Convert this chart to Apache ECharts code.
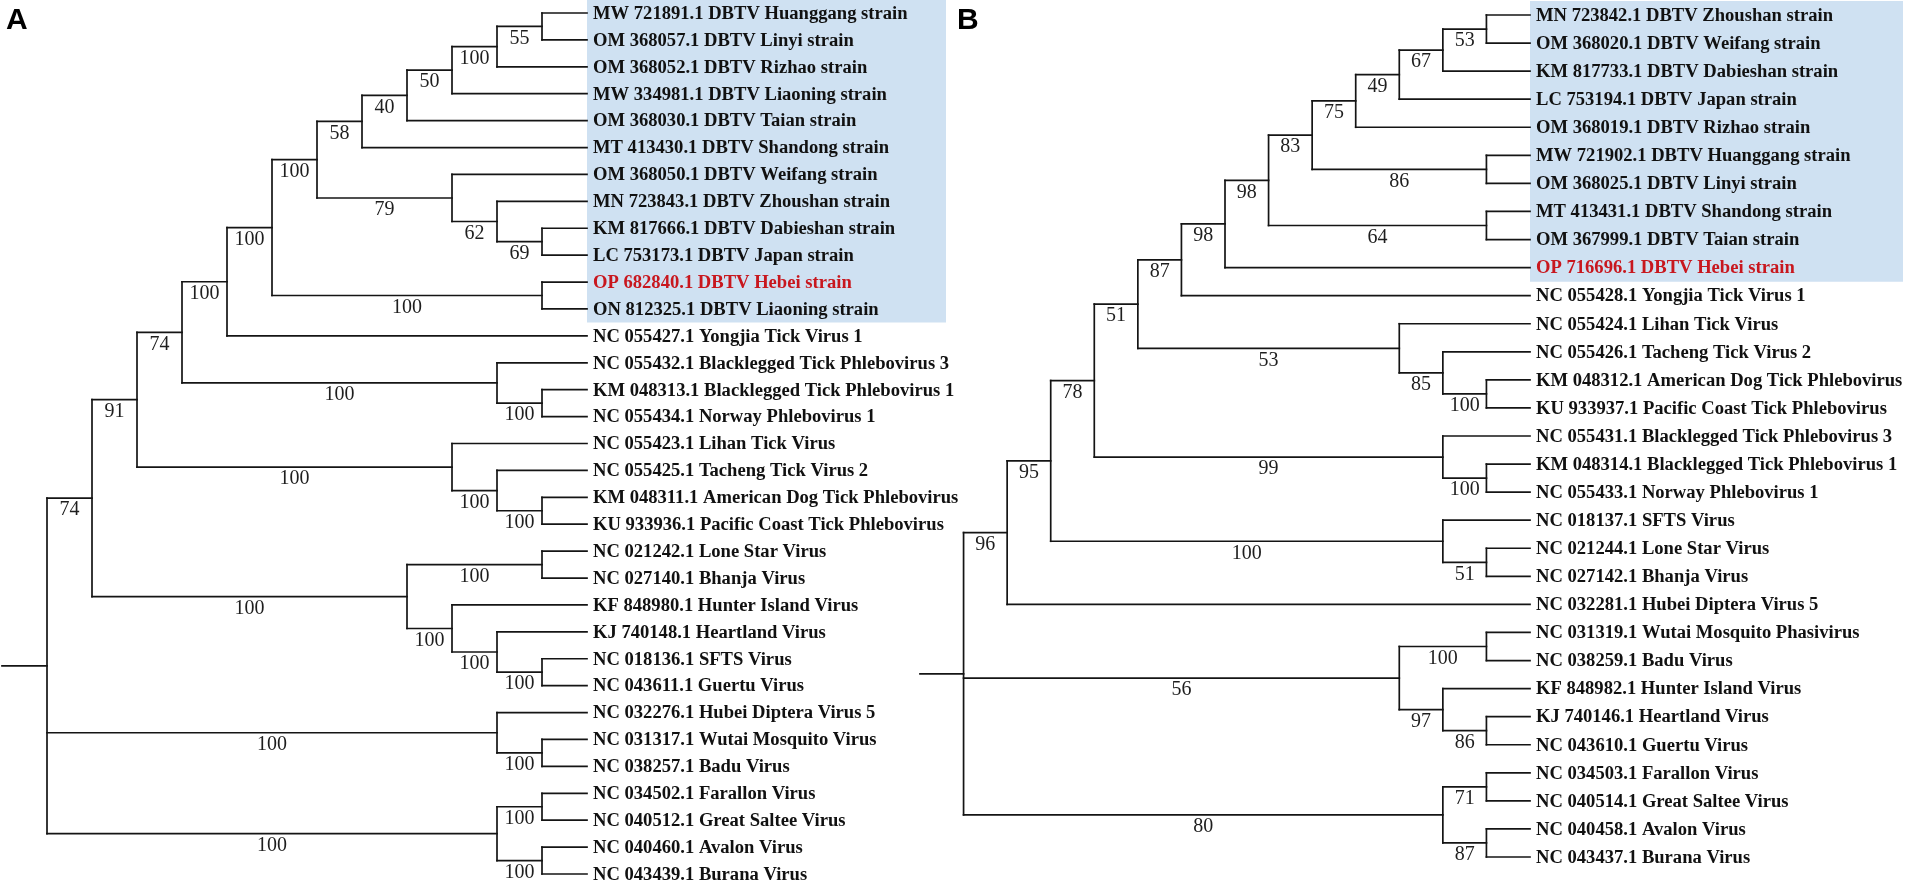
<!DOCTYPE html>
<html><head><meta charset="utf-8">
<script src="https://cdn.jsdelivr.net/npm/echarts@6/dist/echarts.min.js"></script>
<style>html,body{margin:0;padding:0;background:#fff}#c{width:1905px;height:885px}</style>
</head><body><div id="c"></div>
<script>
// ---------- DATA ----------
const leavesA = [
  "MW 721891.1 DBTV Huanggang strain","OM 368057.1 DBTV Linyi strain","OM 368052.1 DBTV Rizhao strain",
  "MW 334981.1 DBTV Liaoning strain","OM 368030.1 DBTV Taian strain","MT 413430.1 DBTV Shandong strain",
  "OM 368050.1 DBTV Weifang strain","MN 723843.1 DBTV Zhoushan strain","KM 817666.1 DBTV Dabieshan strain",
  "LC 753173.1 DBTV Japan strain","OP 682840.1 DBTV Hebei strain","ON 812325.1 DBTV Liaoning strain",
  "NC 055427.1 Yongjia Tick Virus 1","NC 055432.1 Blacklegged Tick Phlebovirus 3","KM 048313.1 Blacklegged Tick Phlebovirus 1",
  "NC 055434.1 Norway Phlebovirus 1","NC 055423.1 Lihan Tick Virus","NC 055425.1 Tacheng Tick Virus 2",
  "KM 048311.1 American Dog Tick Phlebovirus","KU 933936.1 Pacific Coast Tick Phlebovirus","NC 021242.1 Lone Star Virus",
  "NC 027140.1 Bhanja Virus","KF 848980.1 Hunter Island Virus","KJ 740148.1 Heartland Virus",
  "NC 018136.1 SFTS Virus","NC 043611.1 Guertu Virus","NC 032276.1 Hubei Diptera Virus 5",
  "NC 031317.1 Wutai Mosquito Virus","NC 038257.1 Badu Virus","NC 034502.1 Farallon Virus",
  "NC 040512.1 Great Saltee Virus","NC 040460.1 Avalon Virus","NC 043439.1 Burana Virus"
];
// topology (leaf indices) with bootstrap support values
const treeA = "((((((((((((0,1)55,2)100,3)50,4)40,5)58,(6,(7,(8,9)69)62)79)100,(10,11)100)100,12)100,(13,(14,15)100)100)74,(16,(17,(18,19)100)100)100)91,((20,21)100,(22,(23,(24,25)100)100)100)100)74,(26,(27,28)100)100,((29,30)100,(31,32)100)100)";
const boxCountA = 12;       // first 12 leaves highlighted
const redLeavesA = [10];

const leavesB = [
  "MN 723842.1 DBTV Zhoushan strain","OM 368020.1 DBTV Weifang strain","KM 817733.1 DBTV Dabieshan strain",
  "LC 753194.1 DBTV Japan strain","OM 368019.1 DBTV Rizhao strain","MW 721902.1 DBTV Huanggang strain",
  "OM 368025.1 DBTV Linyi strain","MT 413431.1 DBTV Shandong strain","OM 367999.1 DBTV Taian strain",
  "OP 716696.1 DBTV Hebei strain","NC 055428.1 Yongjia Tick Virus 1","NC 055424.1 Lihan Tick Virus",
  "NC 055426.1 Tacheng Tick Virus 2","KM 048312.1 American Dog Tick Phlebovirus","KU 933937.1 Pacific Coast Tick Phlebovirus",
  "NC 055431.1 Blacklegged Tick Phlebovirus 3","KM 048314.1 Blacklegged Tick Phlebovirus 1","NC 055433.1 Norway Phlebovirus 1",
  "NC 018137.1 SFTS Virus","NC 021244.1 Lone Star Virus","NC 027142.1 Bhanja Virus",
  "NC 032281.1 Hubei Diptera Virus 5","NC 031319.1 Wutai Mosquito Phasivirus","NC 038259.1 Badu Virus",
  "KF 848982.1 Hunter Island Virus","KJ 740146.1 Heartland Virus","NC 043610.1 Guertu Virus",
  "NC 034503.1 Farallon Virus","NC 040514.1 Great Saltee Virus","NC 040458.1 Avalon Virus","NC 043437.1 Burana Virus"
];
const treeB = "(((((((((((((0,1)53,2)67,3)49,4)75,(5,6)86)83,(7,8)64)98,9)98,10)87,(11,(12,(13,14)100)85)53)51,(15,(16,17)100)99)78,(18,(19,20)51)100)95,21)96,((22,23)100,(24,(25,26)86)97)56,((27,28)71,(29,30)87)80)";
const boxCountB = 10;
const redLeavesB = [9];
const panelTitles = ["A", "B"];

// ---------- TREE PROCESSING ----------
function parseNewick(s) {
  let i = 0;
  function node() {
    if (s[i] === '(') {
      i++;
      const ch = [node()];
      while (s[i] === ',') { i++; ch.push(node()); }
      i++; // ')'
      let num = '';
      while (i < s.length && /[0-9.]/.test(s[i])) num += s[i++];
      return { children: ch, support: num === '' ? null : +num };
    }
    let num = '';
    while (i < s.length && /[0-9]/.test(s[i])) num += s[i++];
    return { leaf: +num };
  }
  return node();
}
function layoutTree(str) {
  const root = parseNewick(str);
  function height(n) { n.h = n.children ? 1 + Math.max(...n.children.map(height)) : 0; return n.h; }
  const H = height(root);
  function pos(n) {
    n.x = H - n.h;
    if (n.children) {
      n.children.forEach(pos);
      n.y = (n.children[0].y + n.children[n.children.length - 1].y) / 2;
    } else n.y = n.leaf;
  }
  pos(root);
  const edges = [], verts = [], supports = [], leafItems = [];
  edges.push([root.x - 1, root.x, root.y]); // root stub
  (function walk(n) {
    if (n.children) {
      verts.push([n.x, n.children[0].y, n.children[n.children.length - 1].y]);
      n.children.forEach(c => {
        edges.push([n.x, c.x, c.y]);
        if (c.children && c.support != null) supports.push([n.x, c.x, c.y, c.support]);
        walk(c);
      });
    } else leafItems.push([n.x, n.y, n.leaf]);
  })(root);
  return { H, edges, verts, supports, leafItems };
}

const tA = layoutTree(treeA), tB = layoutTree(treeB);

// ---------- CHART ----------
const LINE = '#141414';
const chart = echarts.init(document.getElementById('c'), null, { renderer: 'canvas' });

function panelSeries(t, leaves, boxCount, reds, idx, boxRight) {
  const ax = { xAxisIndex: idx, yAxisIndex: idx };
  return [
    Object.assign({
      type: 'custom', silent: true, z: 1,
      data: [[t.H, -0.5, boxCount - 0.5]],
      renderItem(p, api) {
        const a = api.coord([api.value(0), api.value(1)]);
        const b = api.coord([api.value(0), api.value(2)]);
        return { type: 'rect', shape: { x: a[0], y: Math.max(0, a[1]), width: boxRight - a[0], height: b[1] - Math.max(0, a[1]) },
          style: { fill: '#cfe1f2' } };
      }
    }, ax),
    Object.assign({
      type: 'custom', silent: true, z: 2, data: t.edges,
      renderItem(p, api) {
        const a = api.coord([api.value(0), api.value(2)]);
        const b = api.coord([api.value(1), api.value(2)]);
        return { type: 'line', shape: { x1: a[0], y1: a[1], x2: b[0], y2: b[1] },
          style: { stroke: LINE, lineWidth: 1.7, lineCap: 'square' } };
      }
    }, ax),
    Object.assign({
      type: 'custom', silent: true, z: 2, data: t.verts,
      renderItem(p, api) {
        const a = api.coord([api.value(0), api.value(1)]);
        const b = api.coord([api.value(0), api.value(2)]);
        return { type: 'line', shape: { x1: a[0], y1: a[1], x2: b[0], y2: b[1] },
          style: { stroke: LINE, lineWidth: 1.7, lineCap: 'square' } };
      }
    }, ax),
    Object.assign({
      type: 'custom', silent: true, z: 3, data: t.supports,
      renderItem(p, api) {
        const a = api.coord([api.value(0), api.value(2)]);
        const b = api.coord([api.value(1), api.value(2)]);
        return { type: 'text', x: (a[0] + b[0]) / 2, y: a[1] + 2,
          style: { text: String(api.value(3)), fill: '#1e1e1e', font: '20px "Liberation Serif", serif',
            align: 'center', verticalAlign: 'top' } };
      }
    }, ax),
    Object.assign({
      type: 'custom', silent: true, z: 3, data: t.leafItems,
      renderItem(p, api) {
        const a = api.coord([api.value(0), api.value(1)]);
        const li = api.value(2);
        return { type: 'text', x: a[0] + 6, y: a[1] + 1,
          style: { text: leaves[li], fill: reds.includes(li) ? '#c8171e' : '#111',
            font: 'bold 18.6px "Liberation Serif", serif', align: 'left', verticalAlign: 'middle' } };
      }
    }, ax)
  ];
}

const option = {
  animation: false,
  backgroundColor: '#fff',
  title: [
    { text: panelTitles[0], left: 6, top: 6, padding: 0, textStyle: { fontFamily: 'Liberation Sans', fontWeight: 'bold', fontSize: 30, color: '#000' } },
    { text: panelTitles[1], left: 957, top: 6, padding: 0, textStyle: { fontFamily: 'Liberation Sans', fontWeight: 'bold', fontSize: 30, color: '#000' } }
  ],
  grid: [
    { left: 2, width: 585, top: 13, height: 861 },
    { left: 920, width: 610, top: 15, height: 842 }
  ],
  xAxis: [
    { type: 'value', gridIndex: 0, min: -1, max: tA.H, show: false },
    { type: 'value', gridIndex: 1, min: -1, max: tB.H, show: false }
  ],
  yAxis: [
    { type: 'value', gridIndex: 0, min: 0, max: leavesA.length - 1, inverse: true, show: false },
    { type: 'value', gridIndex: 1, min: 0, max: leavesB.length - 1, inverse: true, show: false }
  ],
  series: [
    ...panelSeries(tA, leavesA, boxCountA, redLeavesA, 0, 946),
    ...panelSeries(tB, leavesB, boxCountB, redLeavesB, 1, 1903)
  ]
};
chart.setOption(option);
</script>
</body></html>
